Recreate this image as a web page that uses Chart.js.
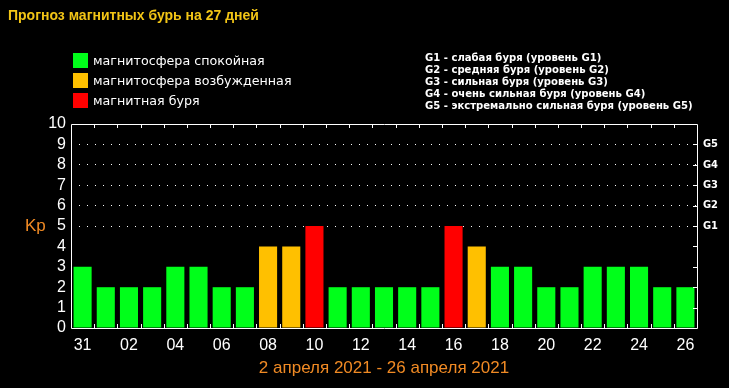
<!DOCTYPE html>
<html>
<head>
<meta charset="utf-8">
<script src="https://cdn.jsdelivr.net/npm/chart.js@4"></script>
<style>
  html, body { margin: 0; padding: 0; background: #000; }
  #wrap { position: relative; width: 729px; height: 388px; overflow: hidden; }
  #cv { position: absolute; left: 0; top: 0; }
  .txt { position: absolute; white-space: nowrap; }
  #title { left: 8px; top: 7px; font: bold 14px "Liberation Sans", Arial, sans-serif; color: #f2c516; }
  #legend { left: 73px; top: 53px; font: 12.7px "DejaVu Sans", sans-serif; color: #fff; }
  #legend div { height: 20px; line-height: 15px; }
  #legend span { display: inline-block; width: 15px; height: 15px; vertical-align: top; margin-right: 5px; }
  #glist { left: 425px; top: 52px; font: bold 11.2px "DejaVu Sans Condensed", "DejaVu Sans", sans-serif; color: #fff; line-height: 12px; }
  #kp { left: 25px; top: 216px; font: 17px "Liberation Sans", Arial, sans-serif; color: #f08a24; }
</style>
</head>
<body>
<div id="wrap">
  <canvas id="cv" width="729" height="388"></canvas>
  <div class="txt" id="title">Прогноз магнитных бурь на 27 дней</div>
  <div class="txt" id="legend"></div>
  <div class="txt" id="glist"></div>
  <div class="txt" id="kp">Kp</div>
</div>
<script>
// days from 31 March to 26 April
const days = ['31', '01', '02', '03', '04', '05', '06', '07', '08', '09', '10', '11', '12', '13',
              '14', '15', '16', '17', '18', '19', '20', '21', '22', '23', '24', '25', '26'];
// forecast Kp index per day
const kp = [3, 2, 2, 2, 3, 3, 2, 2, 4, 4, 5, 2, 2, 2, 2, 2, 5, 4, 3, 3, 2, 2, 3, 3, 3, 2, 2];
// storm levels shown on the right axis (Kp 5..9)
const gLevels = ['G1', 'G2', 'G3', 'G4', 'G5'];
const gNames = ['слабая буря', 'средняя буря', 'сильная буря', 'очень сильная буря', 'экстремально сильная буря'];
const legendNames = ['магнитосфера спокойная', 'магнитосфера возбужденная', 'магнитная буря'];
const dateRange = '2 апреля 2021 - 26 апреля 2021';

const GREEN = '#00ff1a', ORANGE = '#ffc000', RED = '#ff0000';
const legendColors = [GREEN, ORANGE, RED];

function kpColor(v) {
    if (v >= 5) return RED;
    if (v >= 4) return ORANGE;
    return GREEN;
}

// HTML legends
document.getElementById('legend').innerHTML = legendNames
    .map((n, i) => '<div><span style="background:' + legendColors[i] + '"></span>' + n + '</div>').join('');
document.getElementById('glist').innerHTML = gLevels
    .map((g, i) => '<div>' + g + ' - ' + gNames[i] + ' (уровень ' + g + ')</div>').join('');

// frame and small inward ticks
const framePlugin = {
    id: 'frame',
    afterDraw(chart) {
        const { ctx, chartArea: a, scales } = chart;
        ctx.save();
        ctx.strokeStyle = '#fff';
        ctx.lineWidth = 1;
        ctx.beginPath();
        ctx.rect(a.left + 0.5, a.top + 0.5, a.right - a.left, a.bottom - a.top);
        // x ticks at category boundaries
        for (let i = 1; i < days.length; i++) {
            const x = Math.round((scales.x.getPixelForValue(i - 1) + scales.x.getPixelForValue(i)) / 2) + 0.5;
            ctx.moveTo(x, a.bottom); ctx.lineTo(x, a.bottom - 4);
            ctx.moveTo(x, a.top); ctx.lineTo(x, a.top + 4);
        }
        // right axis ticks
        for (let v = 1; v < 10; v++) {
            const y = Math.round(scales.y.getPixelForValue(v)) + 0.5;
            ctx.moveTo(a.right, y); ctx.lineTo(a.right - 4, y);
        }
        ctx.stroke();
        ctx.restore();
    }
};

new Chart(document.getElementById('cv'), {
    type: 'bar',
    data: {
        labels: days,
        datasets: [{
            data: kp,
            backgroundColor: kp.map(kpColor),
            borderWidth: 0,
            barPercentage: 0.78,
            categoryPercentage: 1
        }]
    },
    options: {
        responsive: false,
        animation: false,
        layout: { padding: { top: 124, left: 0, right: 0, bottom: 0 } },
        plugins: { legend: { display: false }, tooltip: { enabled: false } },
        scales: {
            x: {
                grid: { display: false },
                border: { display: false },
                ticks: {
                    autoSkip: false,
                    maxRotation: 0,
                    padding: 0,
                    color: '#fff',
                    font: { family: 'Liberation Sans', size: 16 },
                    callback: (v, i) => (i % 2 === 0 ? days[i] : '')
                },
                title: {
                    display: true,
                    text: dateRange,
                    color: '#f08a24',
                    font: { family: 'Liberation Sans', size: 17 },
                    padding: { top: 0, bottom: 9 }
                },
                afterFit: s => { s.height = 60; }
            },
            y: {
                min: 0,
                max: 10,
                ticks: {
                    stepSize: 1,
                    autoSkip: false,
                    padding: 5,
                    color: '#fff',
                    font: { family: 'Liberation Sans', size: 16 }
                },
                grid: {
                    drawTicks: false,
                    color: c => (c.tick.value >= 5 && c.tick.value <= 9 ? '#ffffff' : 'rgba(0,0,0,0)'),
                    lineWidth: 1
                },
                border: { display: false, dash: [1, 7] },
                afterFit: s => { s.width = 71; }
            },
            y2: {
                position: 'right',
                min: 0,
                max: 10,
                ticks: {
                    stepSize: 1,
                    autoSkip: false,
                    padding: 6,
                    color: '#fff',
                    font: { family: 'DejaVu Sans Condensed', size: 11, weight: 'bold' },
                    callback: v => (v >= 5 && v <= 9 ? gLevels[v - 5] : '')
                },
                grid: { display: false, drawTicks: false },
                border: { display: false },
                afterFit: s => { s.width = 32; }
            }
        }
    },
    plugins: [framePlugin]
});
</script>
</body>
</html>
